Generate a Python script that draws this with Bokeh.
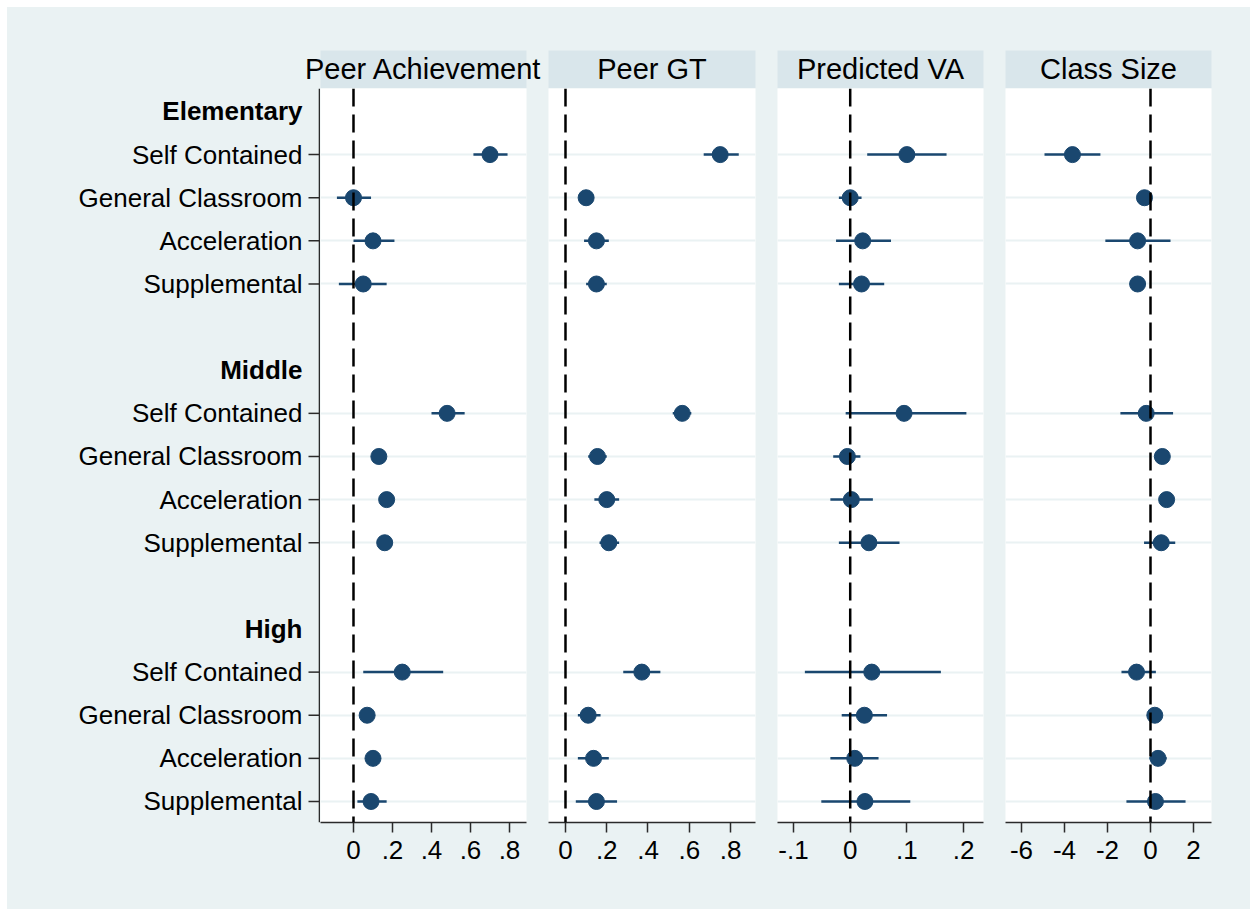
from bokeh.plotting import figure
from bokeh.layouts import row, column
from bokeh.models import Range1d, FixedTicker, Span, Spacer
from bokeh.core.properties import value
from bokeh.embed import file_html
from bokeh.resources import INLINE

# ---------------- data ----------------
groups = ["Elementary", "Middle", "High"]
items = ["Self Contained", "General Classroom", "Acceleration", "Supplemental"]
panel_titles = ["Peer Achievement", "Peer GT", "Predicted VA", "Class Size"]

# order: Elementary (SC, Gen, Acc, Sup), Middle (...), High (...)
peer_ach_coef = [0.70, 0.00, 0.10, 0.05, 0.48, 0.13, 0.17, 0.16, 0.25, 0.07, 0.10, 0.09]
peer_ach_lo = [0.615, -0.085, 0.00, -0.075, 0.40, 0.11, 0.15, 0.13, 0.05, 0.05, 0.08, 0.02]
peer_ach_hi = [0.79, 0.09, 0.21, 0.17, 0.57, 0.15, 0.19, 0.20, 0.46, 0.09, 0.11, 0.17]

peer_gt_coef = [0.75, 0.10, 0.15, 0.15, 0.566, 0.155, 0.20, 0.21, 0.37, 0.11, 0.136, 0.15]
peer_gt_lo = [0.67, 0.085, 0.09, 0.10, 0.52, 0.11, 0.14, 0.165, 0.28, 0.06, 0.06, 0.05]
peer_gt_hi = [0.84, 0.115, 0.21, 0.20, 0.61, 0.20, 0.26, 0.26, 0.46, 0.17, 0.21, 0.25]

pred_va_coef = [0.10, 0.00, 0.022, 0.02, 0.095, -0.005, 0.002, 0.033, 0.038, 0.025, 0.008, 0.026]
pred_va_lo = [0.03, -0.02, -0.025, -0.02, -0.008, -0.03, -0.035, -0.02, -0.08, -0.015, -0.035, -0.051]
pred_va_hi = [0.17, 0.02, 0.072, 0.06, 0.205, 0.018, 0.04, 0.087, 0.16, 0.065, 0.05, 0.106]

class_size_coef = [-3.63, -0.28, -0.60, -0.60, -0.20, 0.55, 0.75, 0.50, -0.65, 0.20, 0.35, 0.23]
class_size_lo = [-4.93, -0.40, -2.10, -0.85, -1.40, 0.40, 0.60, -0.30, -1.35, 0.05, -0.05, -1.12]
class_size_hi = [-2.33, -0.15, 0.93, -0.35, 1.05, 0.70, 0.90, 1.15, 0.25, 0.35, 0.75, 1.63]

p1_ticks = [0, 0.2, 0.4, 0.6, 0.8]
p1_tick_labels = ["0", ".2", ".4", ".6", ".8"]
p2_ticks = [0, 0.2, 0.4, 0.6, 0.8]
p2_tick_labels = ["0", ".2", ".4", ".6", ".8"]
p3_ticks = [-0.1, 0, 0.1, 0.2]
p3_tick_labels = ["-.1", "0", ".1", ".2"]
p4_ticks = [-6, -4, -2, 0, 2]
p4_tick_labels = ["-6", "-4", "-2", "0", "2"]

# ---------------- styling / layout ----------------
FONT = "Liberation Sans"
OUTER = "#eaf2f3"
STRIP = "#d9e6eb"
NAVY = "#1a476f"
AXIS = "#2b2b2b"

panels = [
    (peer_ach_coef, peer_ach_lo, peer_ach_hi, p1_ticks, p1_tick_labels, (-0.1692, 0.8872)),
    (peer_gt_coef, peer_gt_lo, peer_gt_hi, p2_ticks, p2_tick_labels, (-0.0824, 0.9212)),
    (pred_va_coef, pred_va_lo, pred_va_hi, p3_ticks, p3_tick_labels, (-0.1283, 0.2352)),
    (class_size_coef, class_size_lo, class_size_hi, p4_ticks, p4_tick_labels, (-6.744, 2.837)),
]
# (frame width, right border) of each panel figure
panel_sizes = [(206, 22), (207, 22), (206, 22), (206, 39)]
LABEL_W = 313           # width of the y-label column
HEADER_H = 81           # height of header row (strip is the bottom 38 px)
STRIP_H = 38
PANEL_H = 821
BOTTOM_B = 87
TOTAL_W = LABEL_W + sum(a + b for a, b in panel_sizes)

# y positions: slot index (negated so the top is first)
item_y, item_names, header_y = [], [], []
for g, gname in enumerate(groups):
    header_y.append(-(6 * g))
    for i, it in enumerate(items):
        item_y.append(-(6 * g + 1 + i))
        item_names.append(it)
Y_BOTTOM = -16.487
Y_TOP = 0.533


def blank(p):
    p.border_fill_color = OUTER
    p.background_fill_color = OUTER
    p.outline_line_color = None
    p.xaxis.visible = False
    p.yaxis.visible = False
    p.xgrid.visible = False
    p.ygrid.visible = False


# ---- header row with panel strips and titles ----
hdr = figure(width=TOTAL_W, height=HEADER_H, output_backend="svg", toolbar_location=None,
             x_range=Range1d(0, TOTAL_W), y_range=Range1d(0, HEADER_H),
             min_border_left=0, min_border_right=0, min_border_top=0, min_border_bottom=0)
blank(hdr)
lefts, rights = [], []
xpos = LABEL_W
for fw, br in panel_sizes:
    lefts.append(xpos)
    rights.append(xpos + fw)
    xpos += fw + br
hdr.quad(left=lefts, right=rights, bottom=[0] * 4, top=[STRIP_H] * 4,
         fill_color=STRIP, line_color=None)
hdr.text(x=[(l + r) / 2 for l, r in zip(lefts, rights)], y=[STRIP_H / 2 + 0.5] * 4,
         text=panel_titles, text_align="center", text_baseline="middle",
         text_font=value(FONT), text_font_size="29px", text_color="black")

# ---- y label column ----
lab = figure(width=LABEL_W, height=PANEL_H, output_backend="svg", toolbar_location=None,
             x_range=Range1d(0, LABEL_W), y_range=Range1d(Y_BOTTOM, Y_TOP),
             min_border_left=0, min_border_right=0, min_border_top=0, min_border_bottom=BOTTOM_B)
blank(lab)
lab.text(x=[LABEL_W - 18] * len(item_y), y=item_y, text=item_names, text_align="right",
         text_baseline="middle", text_font=value(FONT), text_font_size="26px", text_color="black")
lab.text(x=[LABEL_W - 18] * len(header_y), y=header_y, text=groups, text_align="right",
         text_baseline="middle", text_font=value(FONT), text_font_size="26px",
         text_font_style="bold", text_color="black")
lab.segment(x0=[LABEL_W - 12] * len(item_y), x1=[LABEL_W] * len(item_y), y0=item_y, y1=item_y,
            line_color=AXIS, line_width=1.5)
lab.segment(x0=[LABEL_W - 0.9], x1=[LABEL_W - 0.9], y0=[Y_BOTTOM], y1=[Y_TOP],
            line_color=AXIS, line_width=1.8)

# ---- panels ----
figs = [lab]
for k, (coef, lo, hi, ticks, tlabels, (xs, xe)) in enumerate(panels):
    fw, br = panel_sizes[k]
    p = figure(width=fw + br, height=PANEL_H, output_backend="svg", toolbar_location=None,
               x_range=Range1d(xs, xe), y_range=Range1d(Y_BOTTOM, Y_TOP),
               min_border_left=0, min_border_right=br, min_border_top=0, min_border_bottom=BOTTOM_B)
    p.border_fill_color = OUTER
    p.background_fill_color = "white"
    p.outline_line_color = None

    p.xgrid.visible = False
    p.ygrid.ticker = FixedTicker(ticks=item_y)
    p.ygrid.grid_line_color = OUTER
    p.ygrid.grid_line_width = 2
    p.yaxis.visible = False

    p.add_layout(Span(location=0, dimension="height", line_color="black",
                      line_width=2.5, line_dash="18 8"))

    p.segment(x0=lo, y0=item_y, x1=hi, y1=item_y, line_color=NAVY, line_width=2.5)
    p.scatter(x=coef, y=item_y, size=16, fill_color=NAVY, line_color=NAVY)

    xa = p.xaxis[0]
    xa.ticker = FixedTicker(ticks=ticks)
    xa.major_label_overrides = {t: l for t, l in zip(ticks, tlabels)}
    xa.minor_tick_line_color = None
    xa.major_tick_in = 0
    xa.major_tick_out = 10
    xa.axis_line_color = AXIS
    xa.axis_line_width = 1.5
    xa.major_tick_line_color = AXIS
    xa.major_tick_line_width = 1.5
    xa.major_label_text_font = FONT
    xa.major_label_text_font_size = "26px"
    xa.major_label_text_color = "black"
    xa.major_label_standoff = 8
    figs.append(p)

body = column(hdr, row(*figs, styles={"background-color": OUTER}),
              styles={"background-color": OUTER})
layout = column(Spacer(width=TOTAL_W, height=7), row(Spacer(width=7, height=10), body))
open("out.html", "w").write(file_html(layout, INLINE))
